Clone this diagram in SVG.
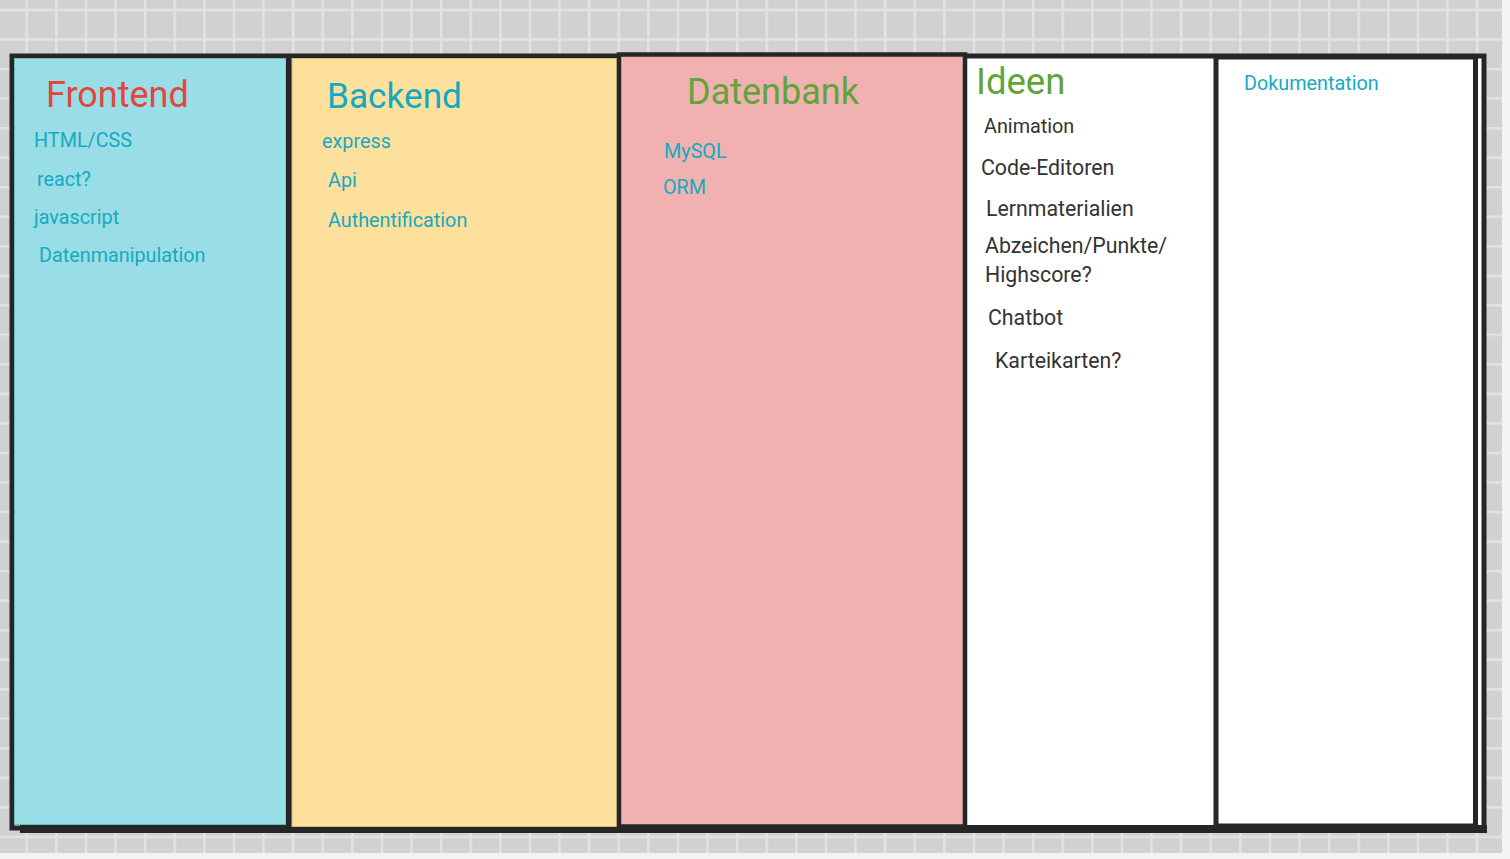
<svg xmlns="http://www.w3.org/2000/svg" width="1510" height="859" viewBox="0 0 1510 859">
<defs>
<pattern id="grid" x="25.5" y="8.8" width="29.6" height="29.53" patternUnits="userSpaceOnUse">
<rect width="29.6" height="29.53" fill="#d1d1d1"/>
<rect width="2.5" height="29.53" fill="#e3e3e3"/>
<rect width="29.6" height="2.5" fill="#e3e3e3"/>
</pattern>
<style>
text{font-family:Roboto,"Liberation Sans",sans-serif}
.h{font-size:36px}
.i{font-size:19.8px;fill:#17a9c3}
.d{font-size:21.3px;fill:#333333}
.frame{stroke:#262626;fill:none}
</style>
</defs>
<rect width="1510" height="859" fill="#f2f3f5"/>
<rect width="1502" height="853" fill="url(#grid)"/>

<g id="board">
<rect x="12" y="56" width="1472" height="772" fill="#ffffff"/>
<rect x="20" y="825" width="1467" height="8" fill="#262626"/>
<rect x="12" y="56" width="1472" height="772" class="frame" stroke-width="5"/>
</g>

<g id="frontend">
<rect x="14.5" y="58.5" width="271.5" height="766" fill="#99dde6" stroke="#6fb8c2" stroke-width="1"/>
<rect x="286" y="56" width="6" height="774" fill="#262626"/>
<text class="h" x="46" y="107" fill="#e0483b">Frontend</text>
<text class="i" x="34" y="147">HTML/CSS</text>
<text class="i" x="37" y="186">react?</text>
<text class="i" x="34" y="224">javascript</text>
<text class="i" x="39" y="262">Datenmanipulation</text>
</g>

<g id="backend">
<rect x="292" y="58.5" width="325" height="768" fill="#fce09b" stroke="#d8bb7a" stroke-width="1"/>
<text x="327" y="108" fill="#12a9c2" style="font-size:35.2px">Backend</text>
<text class="i" x="322" y="148">express</text>
<text class="i" x="328" y="187">Api</text>
<text class="i" x="328" y="227">Authentification</text>
</g>

<g id="datenbank">
<rect x="619" y="54.5" width="346" height="772" fill="#f0b1b0" stroke="#262626" stroke-width="4.5"/>
<text class="h" x="687" y="104" fill="#62a33a">Datenbank</text>
<text class="i" x="664" y="158">MySQL</text>
<text class="i" x="663" y="194">ORM</text>
</g>

<g id="ideen">
<text x="976" y="94" fill="#62a33a" style="font-size:36.5px">Ideen</text>
<text class="d" x="984" y="133" style="font-size:19.8px">Animation</text>
<text class="d" x="981" y="175">Code-Editoren</text>
<text class="d" x="986" y="216">Lernmaterialien</text>
<text class="d" x="985" y="253">Abzeichen/Punkte/</text>
<text class="d" x="985" y="282">Highscore?</text>
<text class="d" x="988" y="325">Chatbot</text>
<text class="d" x="995" y="368">Karteikarten?</text>
</g>

<g id="dokumentation">
<rect x="1216" y="57" width="259.5" height="769" fill="#ffffff" stroke="#262626" stroke-width="5"/>
<text class="i" x="1244" y="90">Dokumentation</text>
</g>
</svg>
